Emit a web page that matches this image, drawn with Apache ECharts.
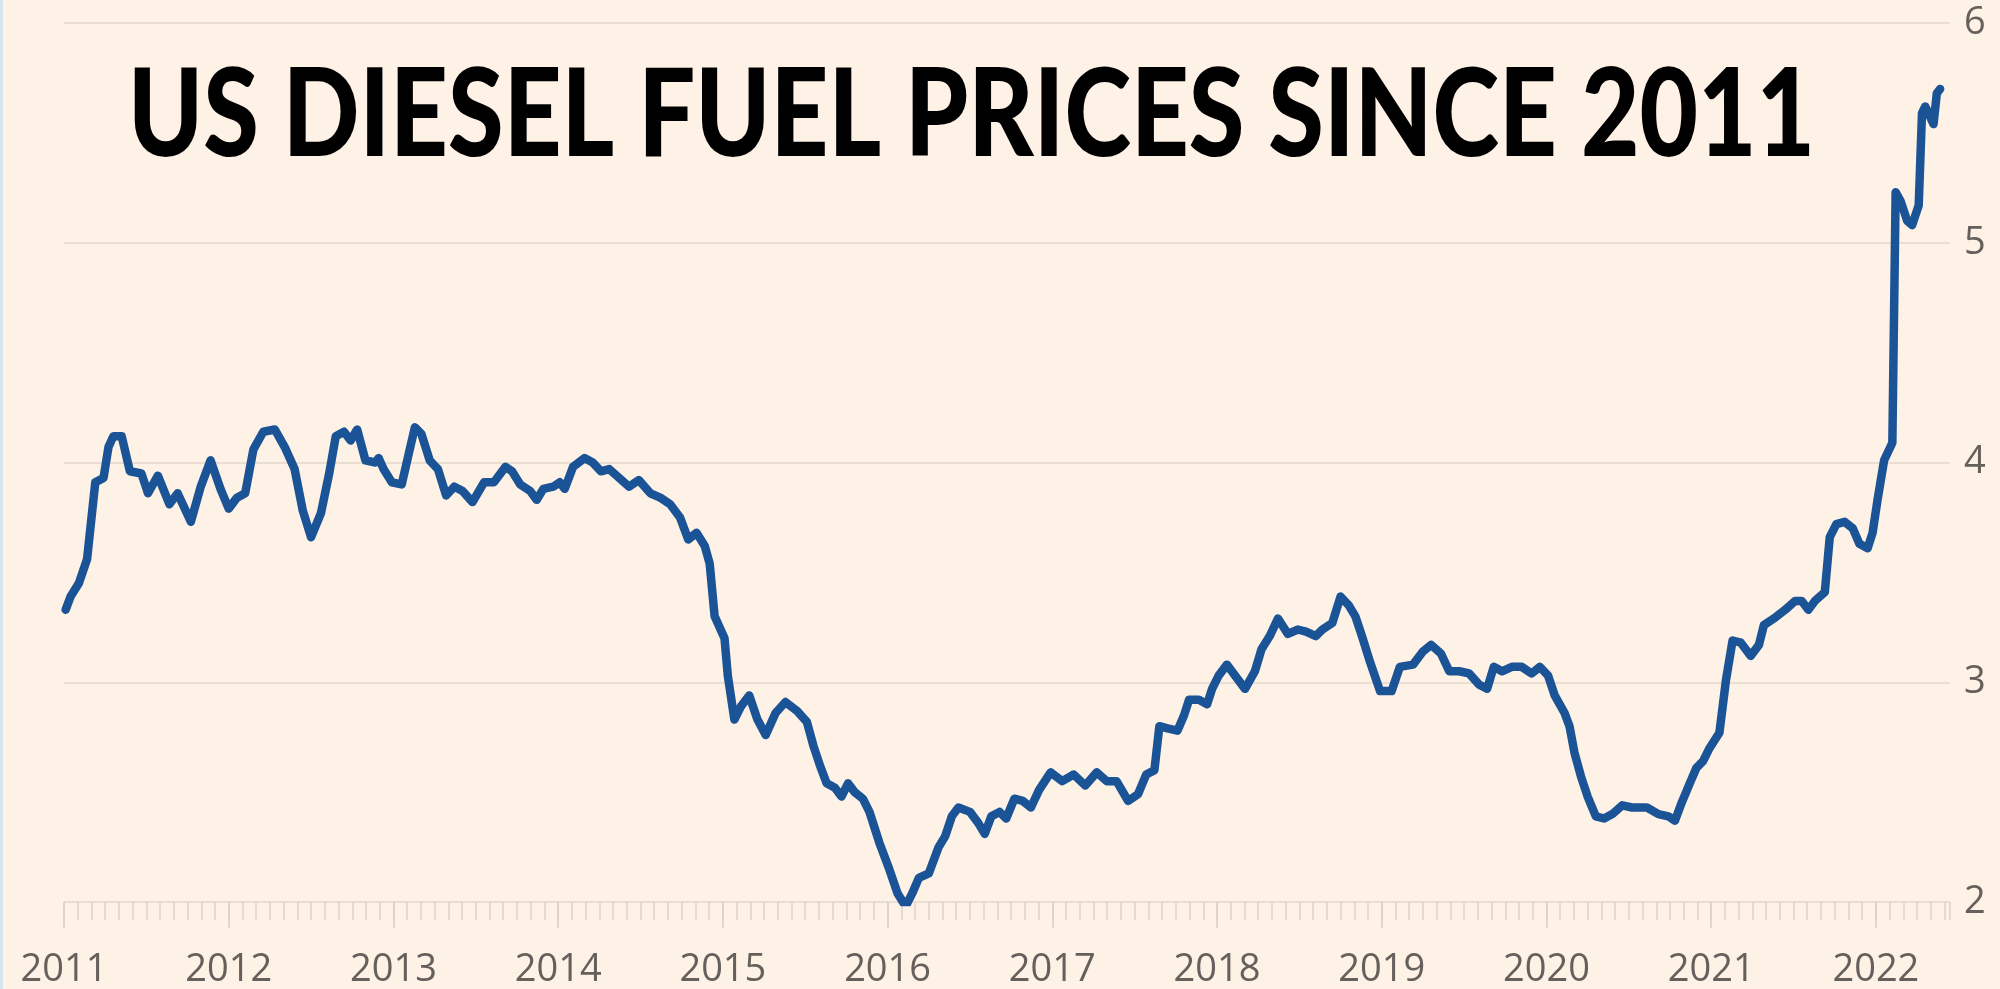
<!DOCTYPE html>
<html lang="en">
<head>
<meta charset="UTF-8">
<title>US diesel fuel prices since 2011</title>
<script src="https://cdn.jsdelivr.net/npm/echarts@6/dist/echarts.min.js"></script>
<style>
  html, body { margin: 0; padding: 0; background: #fef1e6; }
  #chart { width: 2000px; height: 989px; }
</style>
</head>
<body>
<div id="chart"></div>
<script>
// weekly-ish readings: decimal year, $ per gallon
var years = [
  2011.01, 2011.04, 2011.09, 2011.14, 2011.17, 2011.19, 2011.24, 2011.27, 2011.30, 2011.35,
  2011.40, 2011.47, 2011.51, 2011.57, 2011.64, 2011.69, 2011.77, 2011.83, 2011.89, 2011.95,
  2012.00, 2012.05, 2012.10, 2012.15, 2012.21, 2012.28, 2012.34, 2012.40, 2012.45, 2012.50,
  2012.56, 2012.61, 2012.65, 2012.70, 2012.74, 2012.78, 2012.83, 2012.89, 2012.91, 2012.94,
  2012.99, 2013.05, 2013.09, 2013.13, 2013.17, 2013.22, 2013.27, 2013.32, 2013.37, 2013.42,
  2013.48, 2013.55, 2013.61, 2013.68, 2013.72, 2013.77, 2013.83, 2013.87, 2013.91, 2013.97,
  2014.01, 2014.04, 2014.09, 2014.16, 2014.21, 2014.26, 2014.31, 2014.37, 2014.43, 2014.49,
  2014.56, 2014.62, 2014.68, 2014.74, 2014.79, 2014.84, 2014.89, 2014.92, 2014.95, 2015.01,
  2015.03, 2015.07, 2015.11, 2015.16, 2015.21, 2015.26, 2015.32, 2015.38, 2015.45, 2015.51,
  2015.55, 2015.59, 2015.63, 2015.68, 2015.72, 2015.76, 2015.80, 2015.85, 2015.89, 2015.95,
  2016.01, 2016.06, 2016.11, 2016.15, 2016.19, 2016.25, 2016.31, 2016.35, 2016.39, 2016.43,
  2016.50, 2016.55, 2016.59, 2016.63, 2016.68, 2016.72, 2016.77, 2016.82, 2016.87, 2016.92,
  2016.99, 2017.06, 2017.13, 2017.20, 2017.27, 2017.33, 2017.39, 2017.46, 2017.52, 2017.57,
  2017.62, 2017.65, 2017.70, 2017.76, 2017.80, 2017.83, 2017.89, 2017.94, 2017.97, 2018.01,
  2018.06, 2018.12, 2018.17, 2018.23, 2018.27, 2018.32, 2018.37, 2018.43, 2018.49, 2018.54,
  2018.60, 2018.64, 2018.70, 2018.75, 2018.80, 2018.84, 2018.88, 2018.93, 2018.99, 2019.06,
  2019.11, 2019.19, 2019.25, 2019.30, 2019.36, 2019.41, 2019.47, 2019.53, 2019.59, 2019.64,
  2019.68, 2019.73, 2019.79, 2019.85, 2019.91, 2019.96, 2020.01, 2020.05, 2020.11, 2020.14,
  2020.17, 2020.21, 2020.25, 2020.30, 2020.35, 2020.40, 2020.46, 2020.52, 2020.61, 2020.68,
  2020.74, 2020.78, 2020.82, 2020.87, 2020.91, 2020.95, 2020.99, 2021.05, 2021.09, 2021.13,
  2021.18, 2021.24, 2021.29, 2021.32, 2021.38, 2021.45, 2021.51, 2021.55, 2021.59, 2021.63,
  2021.69, 2021.72, 2021.76, 2021.81, 2021.86, 2021.90, 2021.95, 2021.98, 2022.01, 2022.05,
  2022.10, 2022.12, 2022.15, 2022.19, 2022.22, 2022.26, 2022.28, 2022.30, 2022.35, 2022.37,
  2022.39
];
var prices = [
  3.33, 3.39, 3.45, 3.56, 3.77, 3.91, 3.93, 4.07, 4.12, 4.12,
  3.96, 3.95, 3.86, 3.94, 3.81, 3.86, 3.73, 3.89, 4.01, 3.88,
  3.79, 3.84, 3.86, 4.06, 4.14, 4.15, 4.07, 3.97, 3.78, 3.66,
  3.77, 3.95, 4.12, 4.14, 4.10, 4.15, 4.01, 4.00, 4.02, 3.97,
  3.91, 3.90, 4.03, 4.16, 4.13, 4.01, 3.97, 3.85, 3.89, 3.87,
  3.82, 3.91, 3.91, 3.98, 3.96, 3.90, 3.87, 3.83, 3.88, 3.89,
  3.91, 3.88, 3.98, 4.02, 4.00, 3.96, 3.97, 3.93, 3.89, 3.92,
  3.86, 3.84, 3.81, 3.75, 3.65, 3.68, 3.62, 3.54, 3.30, 3.20,
  3.03, 2.83, 2.89, 2.94, 2.83, 2.76, 2.86, 2.91, 2.87, 2.82,
  2.71, 2.62, 2.54, 2.52, 2.48, 2.54, 2.50, 2.47, 2.41, 2.27,
  2.15, 2.04, 1.98, 2.04, 2.11, 2.13, 2.25, 2.30, 2.39, 2.43,
  2.41, 2.36, 2.31, 2.39, 2.41, 2.38, 2.47, 2.46, 2.43, 2.51,
  2.59, 2.55, 2.58, 2.53, 2.59, 2.55, 2.55, 2.46, 2.49, 2.58,
  2.60, 2.80, 2.79, 2.78, 2.85, 2.92, 2.92, 2.90, 2.97, 3.03,
  3.08, 3.02, 2.97, 3.05, 3.15, 3.21, 3.29, 3.22, 3.24, 3.23,
  3.21, 3.24, 3.27, 3.39, 3.35, 3.30, 3.21, 3.09, 2.96, 2.96,
  3.07, 3.08, 3.14, 3.17, 3.13, 3.05, 3.05, 3.04, 2.99, 2.97,
  3.07, 3.05, 3.07, 3.07, 3.04, 3.07, 3.03, 2.94, 2.86, 2.80,
  2.68, 2.57, 2.48, 2.39, 2.38, 2.40, 2.44, 2.43, 2.43, 2.40,
  2.39, 2.37, 2.45, 2.54, 2.61, 2.64, 2.70, 2.77, 3.01, 3.19,
  3.18, 3.12, 3.17, 3.26, 3.29, 3.33, 3.37, 3.37, 3.33, 3.37,
  3.41, 3.66, 3.72, 3.73, 3.70, 3.63, 3.61, 3.68, 3.83, 4.01,
  4.09, 5.23, 5.19, 5.10, 5.08, 5.17, 5.59, 5.62, 5.54, 5.68,
  5.70
];
var yearTicks = [2011, 2012, 2013, 2014, 2015, 2016, 2017, 2018, 2019, 2020, 2021, 2022];
var priceTicks = [2, 3, 4, 5, 6];

var titleText = 'US DIESEL FUEL PRICES SINCE 2011';

var xMin = yearTicks[0];
var xMax = 2022.45;

// build [x, y] pairs for the line
var seriesData = years.map(function (y, i) { return [y, prices[i]]; });

var chart = echarts.init(document.getElementById('chart'));

var option = {
  backgroundColor: '#fef1e6',
  animation: false,
  graphic: [{
    // thin bluish edge on the left of the screenshot
    type: 'rect',
    left: 0,
    top: 0,
    shape: { width: 3, height: 989 },
    style: { fill: '#d6e4ee' },
    silent: true
  }, {
    // headline, squeezed a little to match the condensed lettering
    type: 'text',
    x: 128,
    y: 56,
    scaleX: 0.827,
    z: 100,
    style: {
      text: titleText,
      fontFamily: 'Lato',
      fontWeight: 900,
      fontSize: 122,
      fill: '#000000',
      align: 'left',
      verticalAlign: 'top'
    }
  }],
  grid: {
    left: 64,
    right: 50,
    top: 23,
    bottom: 87,
    containLabel: false,
    outerBoundsMode: 'none'
  },
  xAxis: [{
    // year axis with labels
    type: 'value',
    min: xMin,
    max: xMax,
    interval: 1,
    position: 'bottom',
    axisLine: { show: false },
    axisTick: {
      show: true,
      length: 26,
      lineStyle: { color: '#d8cdc3', width: 1.5 }
    },
    splitLine: { show: false },
    axisLabel: {
      margin: 49,
      color: '#66605c',
      fontFamily: 'Open Sans',
      fontSize: 38,
      showMaxLabel: false,
      formatter: function (v) { return yearTicks.indexOf(Math.round(v)) >= 0 ? String(Math.round(v)) : ''; }
    }
  }, {
    // monthly tick marks
    type: 'value',
    min: 0,
    max: (xMax - xMin) * 12,
    interval: 1,
    position: 'bottom',
    axisLine: { show: false },
    axisTick: {
      show: true,
      length: 18,
      lineStyle: { color: '#ddd2c8', width: 1.5 }
    },
    splitLine: { show: false },
    axisLabel: { show: false }
  }],
  yAxis: {
    type: 'value',
    position: 'right',
    min: priceTicks[0],
    max: priceTicks[priceTicks.length - 1],
    interval: 1,
    axisLine: { show: false },
    axisTick: { show: false },
    splitLine: {
      show: true,
      lineStyle: { color: '#eaded3', width: 2 }
    },
    axisLabel: {
      margin: 14,
      color: '#66605c',
      fontFamily: 'Open Sans',
      fontSize: 38
    }
  },
  series: [{
    type: 'line',
    xAxisIndex: 0,
    data: seriesData,
    showSymbol: false,
    symbol: 'none',
    lineStyle: {
      color: '#1a5396',
      width: 8.5,
      join: 'round',
      cap: 'round'
    }
  }]
};

chart.setOption(option);
</script>
</body>
</html>
